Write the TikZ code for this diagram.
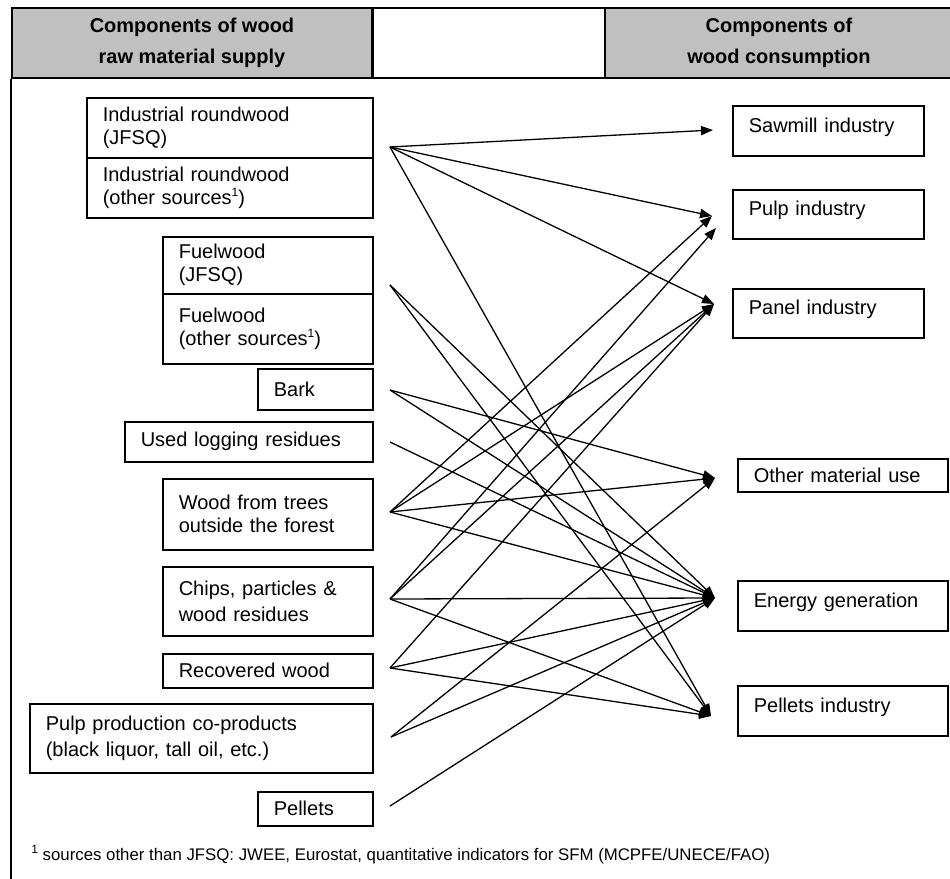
\documentclass[tikz,border=0pt]{standalone}
\usepackage{fontspec}
\setmainfont{Liberation Sans}
\usepackage{xcolor}
\usetikzlibrary{arrows.meta}
\definecolor{hdrgray}{RGB}{192,192,192}
\newcommand{\fnmark}{\raisebox{0.75ex}{\fontsize{6}{6}\selectfont 1}}

\tikzset{
  hdr/.style={draw, line width=1pt, fill=hdrgray, anchor=north west, align=center,
    inner sep=0pt, font=\bfseries\fontsize{10}{15.5}\selectfont},
  box/.style={draw, line width=0.8pt, anchor=north west, align=left,
    inner xsep=8pt, inner ysep=0pt, font=\fontsize{10}{11.5}\selectfont},
  usebox/.style={box, text depth=6pt},
  flow/.style={line width=0.65pt, -{Triangle[length=6pt,width=4.6pt]}}
}

\begin{document}
\begin{tikzpicture}[x=0.5pt, y=-0.5pt]
\useasboundingbox (0,0) rectangle (950,879);
% header row
\node[hdr, minimum width=180pt, minimum height=35pt] (supplyhead) at (11,7) {Components of wood\\raw material supply};
\node[hdr, fill=white, minimum width=116pt, minimum height=35pt] (midhead) at (372,7) {};
\node[hdr, minimum width=174pt, minimum height=35pt] (usehead) at (604,7) {Components of\\wood consumption};
\coordinate (framebot) at (11,879);
\draw[line width=1pt] (supplyhead.south west) -- (framebot);

% supply side
\node[box, text width=127pt, minimum height=30pt] (irjfsq) at (86,97) {Industrial roundwood\\(JFSQ)};
\node[box, text width=127pt, minimum height=30pt] (irother) at (86,157) {Industrial roundwood\\(other sources\fnmark)};
\node[box, text width=89pt, minimum height=28.5pt] (fwjfsq) at (162,236) {Fuelwood\\(JFSQ)};
\node[box, text width=89pt, minimum height=35pt] (fwother) at (162,293) {Fuelwood\\(other sources\fnmark)};
\node[box, text width=41.5pt, minimum height=20.5pt] (bark) at (257,368) {Bark};
\node[box, text width=108pt, minimum height=20pt] (logging) at (124,421) {Used logging residues};
\node[box, text width=89pt, minimum height=35.5pt] (trees) at (162,478) {Wood from trees\\outside the forest};
\node[box, text width=89pt, minimum height=34.5pt, font=\fontsize{10}{13}\selectfont] (chips) at (162,566) {Chips, particles \&\\wood residues};
\node[box, text width=89pt, minimum height=17pt] (recovered) at (162,653) {Recovered wood};
\node[box, text width=155.5pt, minimum height=34.5pt, font=\fontsize{10}{13}\selectfont] (pulpco) at (29,703) {Pulp production co-products\\(black liquor, tall oil, etc.)};
\node[box, text width=41.5pt, minimum height=17pt] (pellets) at (257,791) {Pellets};

% consumption side
\node[usebox, text width=79.5pt, minimum height=25pt] (sawmill) at (732,105) {Sawmill industry};
\node[usebox, text width=79.5pt, minimum height=24.5pt] (pulpind) at (732,189) {Pulp industry};
\node[usebox, text width=79.5pt, minimum height=24.5pt] (panel) at (732,288) {Panel industry};
\node[box, text width=89pt, minimum height=16.5pt] (otheruse) at (737,458) {Other material use};
\node[usebox, text width=89pt, minimum height=25pt] (energy) at (737,580) {Energy generation};
\node[usebox, text width=89pt, minimum height=25pt] (pelletind) at (737,685) {Pellets industry};

\node[anchor=base west, inner sep=0pt, font=\fontsize{8.4}{10}\selectfont] (footnote) at (31,860) {\fnmark\ sources other than JFSQ: JWEE, Eurostat, quantitative indicators for SFM (MCPFE/UNECE/FAO)};

% arrow ends
\coordinate (irOut) at (390,147);
\coordinate (fwOut) at (390,285);
\coordinate (barkOut) at (390,390);
\coordinate (logOut) at (390,442);
\coordinate (treesOut) at (390,512);
\coordinate (chipsOut) at (390,599);
\coordinate (recOut) at (390,668);
\coordinate (pulpcoOut) at (391,737);
\coordinate (pelletsOut) at (390,806);
\coordinate (sawIn) at (713,130);
\coordinate (pulpInA) at (712,216);
\coordinate (pulpInB) at (716,228);
\coordinate (panelIn) at (714,304);
\coordinate (otherIn) at (715,478);
\coordinate (energyIn) at (715,598);
\coordinate (pelletIn) at (711,716);

\foreach \a/\b in {irOut/sawIn, irOut/pulpInA, irOut/panelIn, irOut/pelletIn,
    fwOut/energyIn, fwOut/pelletIn, barkOut/otherIn, barkOut/energyIn, logOut/energyIn,
    treesOut/pulpInA, treesOut/panelIn, treesOut/otherIn, treesOut/energyIn,
    chipsOut/pulpInB, chipsOut/panelIn, chipsOut/energyIn, chipsOut/pelletIn,
    recOut/panelIn, recOut/energyIn, recOut/pelletIn,
    pulpcoOut/otherIn, pulpcoOut/energyIn, pelletsOut/energyIn}
    \draw[flow] (\a) -- (\b);
\end{tikzpicture}
\end{document}
